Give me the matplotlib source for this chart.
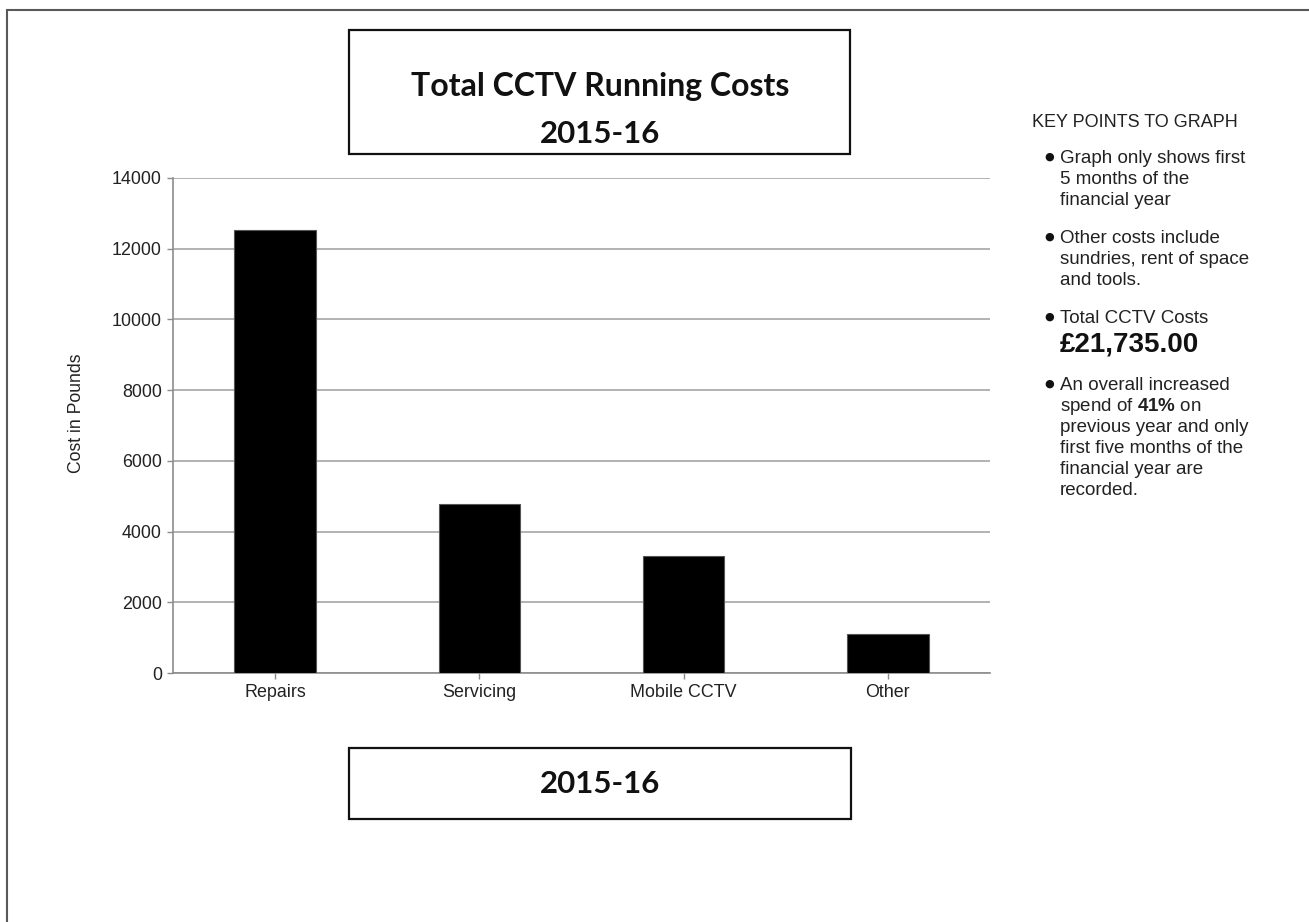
import matplotlib
matplotlib.use("Agg")
import matplotlib.pyplot as plt
from matplotlib.patches import Rectangle

# Chart data
categories = ["Repairs", "Servicing", "Mobile CCTV", "Other"]
costs = [12530, 4780, 3310, 1115]
y_ticks = [0, 2000, 4000, 6000, 8000, 10000, 12000, 14000]

# Text content
title_lines = ["Total CCTV Running Costs", "2015-16"]
footer_text = "2015-16"
y_label = "Cost in Pounds"
key_heading = "KEY POINTS TO GRAPH"
total_line = "£21,735.00"
key_points = [
    ["Graph only shows first", "5 months of the", "financial year"],
    ["Other costs include", "sundries, rent of space", "and tools."],
    ["Total CCTV Costs", total_line],
    ["An overall increased", r"spend of $\mathbf{41\%}$ on", "previous year and only",
     "first five months of the", "financial year are", "recorded."],
]

W, H = 1309, 922  # output size in pixels

plt.rcParams['font.family'] = ['Liberation Sans', 'DejaVu Sans']
plt.rcParams['mathtext.fontset'] = 'custom'
plt.rcParams['mathtext.rm'] = 'Liberation Sans'
plt.rcParams['mathtext.bf'] = 'Liberation Sans:bold'


def fx(px):
    return px / W


def fy(py):
    return 1 - py / H


fig = plt.figure(figsize=(W / 100, H / 100), dpi=100)
fig.patch.set_facecolor('white')

# outer frame (cut off at the right and bottom in the original)
fig.add_artist(Rectangle((fx(7), -0.2), 1.5, fy(10) + 0.2, transform=fig.transFigure,
                         fill=False, edgecolor='#595959', linewidth=1.5))

# main bar chart
ax = fig.add_axes([fx(173), fy(673), fx(990) - fx(173), fy(178) - fy(673)])
x = range(len(categories))
ax.bar(x, costs, width=0.4, color='black', edgecolor='#555555', linewidth=0.8, zorder=3)
ax.set_xlim(-0.5, len(categories) - 0.5)
ax.set_ylim(0, 14000)
ax.set_yticks(y_ticks)
ax.set_xticks(list(x))
ax.set_xticklabels(categories)
ax.set_axisbelow(True)
ax.yaxis.grid(True, color='#a6a6a6', linewidth=1.2)
for side in ['top', 'right']:
    ax.spines[side].set_visible(False)
for side in ['left', 'bottom']:
    ax.spines[side].set_color('#8c8c8c')
    ax.spines[side].set_linewidth(1.2)
ax.tick_params(axis='y', length=4.5, width=1, color='#8c8c8c', labelsize=12.9,
               pad=3.5, labelcolor='#222222')
ax.tick_params(axis='x', length=4, width=1, color='#8c8c8c', labelsize=12.9,
               pad=4, labelcolor='#222222')
ax.set_ylabel(y_label, fontsize=12.7, color='#222222')
ax.yaxis.set_label_coords(-0.108, 0.525)

# title box
fig.add_artist(Rectangle((fx(349), fy(154)), fx(850) - fx(349), fy(30) - fy(154),
                         transform=fig.transFigure, fill=False, edgecolor='#111111',
                         linewidth=1.6))
fig.text(fx(600), fy(96), title_lines[0], ha='center', va='baseline',
         family='Lato', weight='bold', fontsize=23, color='#111111')
fig.text(fx(600), fy(143), title_lines[1], ha='center', va='baseline',
         family='Lato', weight='bold', fontsize=22.5, color='#111111')

# footer box
fig.add_artist(Rectangle((fx(349), fy(819)), fx(851) - fx(349), fy(748) - fy(819),
                         transform=fig.transFigure, fill=False, edgecolor='#111111',
                         linewidth=1.6))
fig.text(fx(600), fy(793), footer_text, ha='center', va='baseline',
         family='Lato', weight='bold', fontsize=22.5, color='#111111')

# key points panel
fig.text(fx(1032), fy(127), key_heading, ha='left', va='baseline', fontsize=13,
         color='#222222')
y = 163
for para in key_points:
    fig.text(fx(1049), fy(y - 6), "\u25cf", ha='center', va='center', fontsize=8,
             family='DejaVu Sans', color='#111111')
    for line in para:
        if line == total_line:
            y += 8
            fig.text(fx(1060), fy(y), line, ha='left', va='baseline', fontsize=20,
                     weight='bold', color='#111111')
        else:
            fig.text(fx(1060), fy(y), line, ha='left', va='baseline', fontsize=13.5,
                     color='#222222')
        y += 21
    y += 17

fig.savefig('out.png', dpi=100, facecolor='white')
